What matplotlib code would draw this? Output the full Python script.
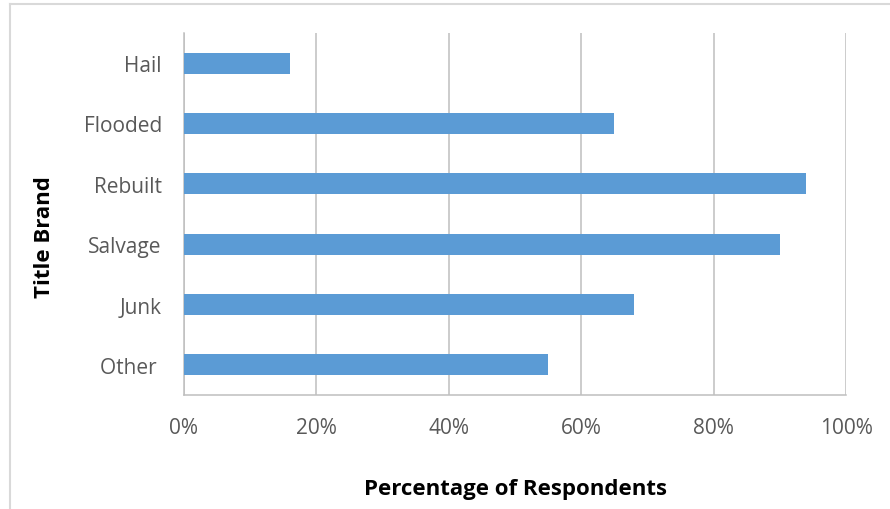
import matplotlib
matplotlib.use("Agg")
import matplotlib.pyplot as plt
from matplotlib.lines import Line2D
from matplotlib.ticker import PercentFormatter

# data (top to bottom)
brands = ["Hail", "Flooded", "Rebuilt", "Salvage", "Junk", "Other "]
share = [16, 65, 94, 90, 68, 55]
x_ticks = [0, 20, 40, 60, 80, 100]

plt.rcParams['font.family'] = ['Open Sans', 'DejaVu Sans']

W, H = 890, 510
fig = plt.figure(figsize=(W / 100, H / 100), dpi=100)
ax = fig.add_axes([184 / W, 1 - 396 / H, 662 / W, 362 / H])

ypos = list(range(len(brands)))
ax.barh(ypos, share, height=0.35, color='#5B9BD5', zorder=3)

ax.set_xlim(0, 100)
ax.set_ylim(len(brands) - 0.5, -0.5)
ax.set_yticks(ypos)
ax.set_yticklabels(brands)
ax.set_xticks(x_ticks)
ax.xaxis.set_major_formatter(PercentFormatter(decimals=0))

ax.grid(axis='x', color='#BFBFBF', linewidth=1.1, zorder=0)
for s in ['top', 'right']:
    ax.spines[s].set_visible(False)
for s in ['left', 'bottom']:
    ax.spines[s].set_color('#BFBFBF')
    ax.spines[s].set_linewidth(1.1)

ax.tick_params(axis='both', length=0, labelsize=15, labelcolor='#595959')
ax.tick_params(axis='x', pad=16)
ax.tick_params(axis='y', pad=16)

fig.text(516 / W, 1 - 490 / H, 'Percentage of Respondents', fontsize=16,
         fontweight='bold', ha='center', va='center')
fig.text(45 / W, 1 - 237 / H, 'Title Brand', fontsize=16, fontweight='bold',
         rotation=90, ha='center', va='center')

# chart area border (only left and top edges show in the crop)
border = '#D9D9D9'
fig.add_artist(Line2D([9.5 / W, 9.5 / W], [0, 1 - 5 / H], color=border, lw=1.5))
fig.add_artist(Line2D([9.5 / W, 1], [1 - 5 / H, 1 - 5 / H], color=border, lw=1.5))

fig.savefig('out.png', dpi=100)
